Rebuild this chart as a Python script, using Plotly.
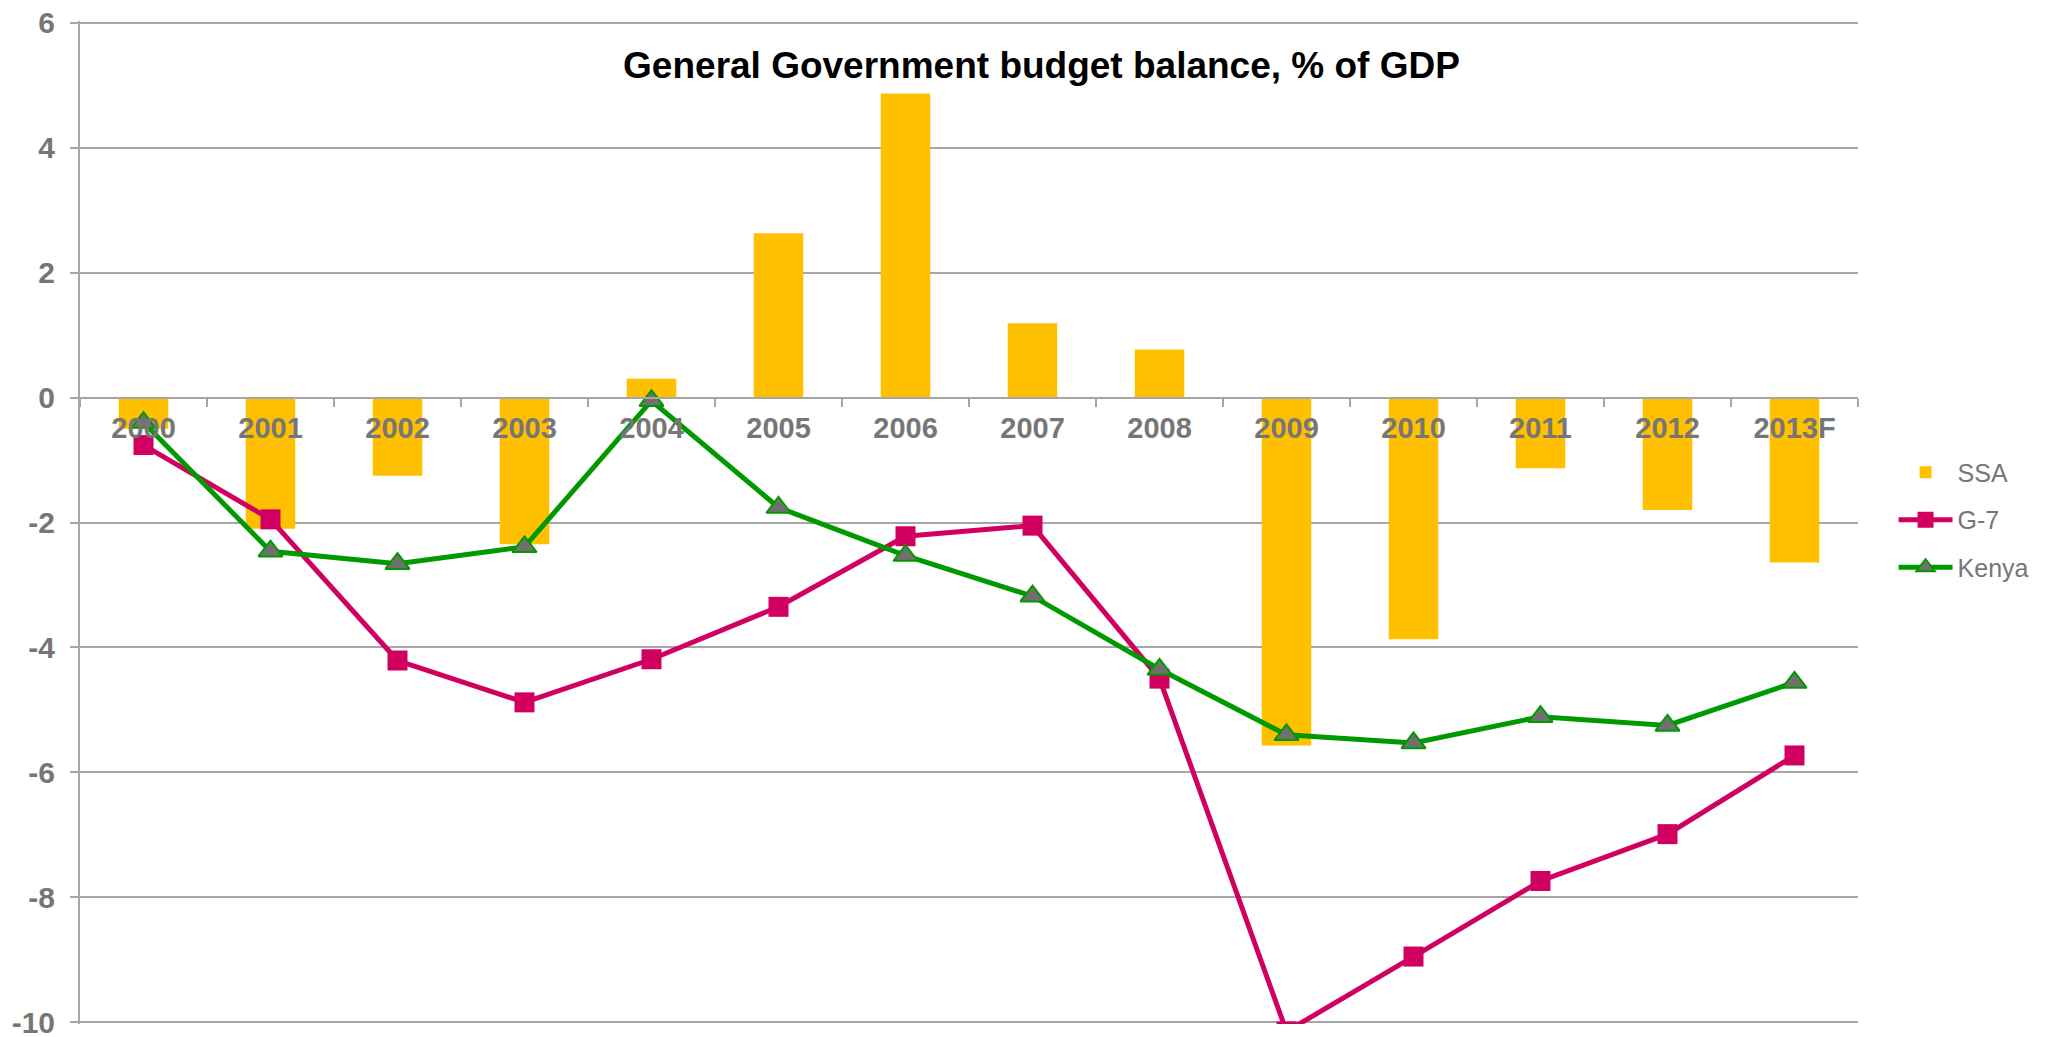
import plotly.graph_objects as go

# General government budget balance, % of GDP
years = ["2000", "2001", "2002", "2003", "2004", "2005", "2006",
         "2007", "2008", "2009", "2010", "2011", "2012", "2013F"]
ssa = [-0.5, -2.1, -1.25, -2.35, 0.3, 2.63, 4.87,
       1.19, 0.77, -5.57, -3.87, -1.13, -1.8, -2.64]
g7 = [-0.76, -1.95, -4.21, -4.88, -4.19, -3.35, -2.22,
      -2.05, -4.5, -10.15, -8.95, -7.74, -6.99, -5.73]
kenya = [-0.4, -2.46, -2.66, -2.39, -0.05, -1.76, -2.53,
         -3.18, -4.35, -5.4, -5.53, -5.11, -5.25, -4.56]
y_ticks = [6, 4, 2, 0, -2, -4, -6, -8, -10]

GRID = "#A6A6A6"
LABEL = "#767676"
FONT = "Liberation Sans, Arial, sans-serif"

fig = go.Figure()
fig.add_trace(go.Bar(
    x=years, y=ssa, name="SSA", marker=dict(color="#FFC000", line=dict(width=0)),
    legendgroup="a",
))
fig.add_trace(go.Scatter(
    x=years, y=g7, name="G-7", mode="lines+markers",
    line=dict(color="#D10060", width=5),
    marker=dict(symbol="square", size=20, color="#D10060", line=dict(width=0)),
    legendgroup="b",
))
fig.add_trace(go.Scatter(
    x=years, y=kenya, name="Kenya", mode="lines+markers",
    line=dict(color="#009A00", width=5),
    marker=dict(symbol="triangle-up", size=21, color="#707070",
                line=dict(color="#009A00", width=2)),
    legendgroup="c",
))

fig.update_layout(
    width=2055, height=1037,
    margin=dict(l=80, r=197, t=21, b=13, autoexpand=False),
    paper_bgcolor="white", plot_bgcolor="white",
    bargap=0.61,
    font=dict(family=FONT, color=LABEL),
    title=dict(
        text="<b>General Government budget balance, % of GDP</b>",
        font=dict(family=FONT, size=37, color="black"),
        x=1041.5 / 2055, xanchor="center", xref="container",
        y=1 - 65 / 1037, yanchor="middle", yref="container",
    ),
    legend=dict(
        x=1.02, xanchor="left", y=0.5025, yanchor="middle",
        font=dict(family=FONT, size=25, color=LABEL),
        traceorder="grouped", tracegroupgap=12,
        itemwidth=54,
        bgcolor="rgba(0,0,0,0)",
    ),
    xaxis=dict(
        type="category", range=[-0.5, 13.5], anchor="free", position=10.03 / 16.06,
        showline=True, linecolor=GRID, linewidth=2,
        ticks="outside", tickson="boundaries", ticklen=8, tickwidth=2, tickcolor=GRID,
        showgrid=False, zeroline=False,
        tickfont=dict(family=FONT, size=29, color=LABEL, weight="bold"),
        ticklabelstandoff=5,
    ),
    yaxis=dict(
        range=[-10.03, 6.03], tickvals=y_ticks, ticktext=[str(v) for v in y_ticks],
        showline=True, linecolor=GRID, linewidth=2,
        ticks="outside", ticklen=8, tickwidth=2, tickcolor=GRID,
        showgrid=True, gridcolor=GRID, gridwidth=2, zeroline=False,
        tickfont=dict(family=FONT, size=30, color=LABEL, weight="bold"),
        ticklabelstandoff=9, ticklabeloverflow="allow",
    ),
)

fig.write_html("out.html")
